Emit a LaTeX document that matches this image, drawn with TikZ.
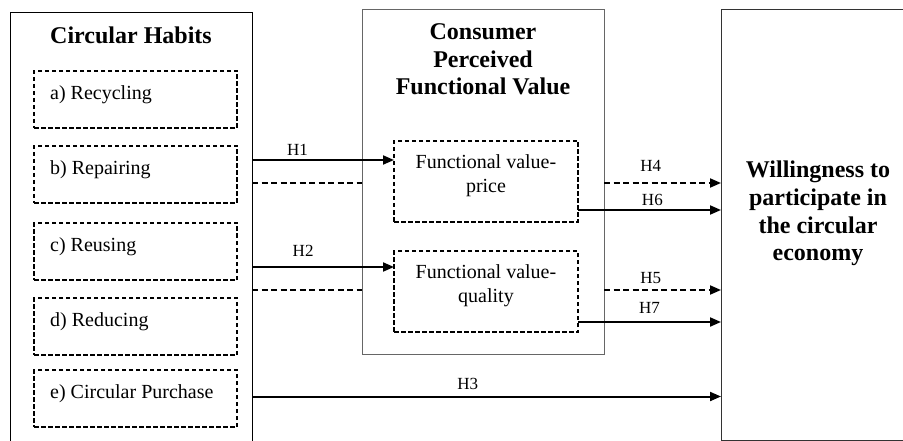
\documentclass[tikz,border=0pt]{standalone}
\usepackage{fontspec}
\setmainfont{Liberation Serif}
\usetikzlibrary{arrows.meta,calc}

\begin{document}
\begin{tikzpicture}[x=1pt, y=-1pt,
  outerbox/.style={draw, line width=0.8pt, anchor=north west, inner sep=0pt, outer sep=0pt},
  habitbox/.style={draw, line width=1.5pt, dash pattern=on 4.5pt off 2.5pt, anchor=north west,
    minimum width=203pt, minimum height=57pt, inner sep=0pt, outer sep=0pt},
  valuebox/.style={habitbox, minimum width=184pt, minimum height=81pt},
  titletext/.style={font=\fontsize{24}{27.7}\selectfont\bfseries, align=center, anchor=north},
  itemtext/.style={font=\fontsize{20}{24}\selectfont, anchor=north west, inner sep=3pt},
  valuetext/.style={font=\fontsize{20}{24}\selectfont, align=center, anchor=north, inner sep=3pt},
  arr/.style={line width=2pt, -{Triangle[length=11pt,width=9pt]}},
  dasharr/.style={arr, dash pattern=on 6pt off 3.5pt},
  dashline/.style={line width=2pt, dash pattern=on 6pt off 3.5pt},
  hlab/.style={font=\fontsize{17}{20}\selectfont, inner sep=0pt}]

  \useasboundingbox (0,0) rectangle (903,441);
  \clip (0,0) rectangle (903,441);

  % Circular habits
  \node[outerbox, minimum width=242pt, minimum height=470pt] (habits) at (10,12) {};
  \node[titletext, yshift=-11.5pt] (habtitle) at (habits.north) {Circular Habits};
  \foreach \nm/\top/\txt in {rec/71/a) Recycling, rep/146/b) Repairing, reu/223/c) Reusing,
      red/298/d) Reducing, cir/370/e) Circular Purchase} {
    \node[habitbox] (\nm) at (34,\top) {};
    \node[itemtext, xshift=13pt, yshift=-11pt] (\nm lab) at (\nm.north west) {\txt};
  }

  % Consumer perceived functional value
  \node[outerbox, draw=black!60, minimum width=242pt, minimum height=345pt] (cpfv) at (362,9) {};
  \node[titletext, yshift=-11pt] (cpfvtitle) at (cpfv.north) {Consumer\\Perceived\\Functional Value};
  \node[valuebox] (fvp) at (394,141) {};
  \node[valuetext, yshift=-10pt] (fvplab) at (fvp.north) {Functional value-\\price};
  \node[valuebox] (fvq) at (394,251) {};
  \node[valuetext, yshift=-10pt] (fvqlab) at (fvq.north) {Functional value-\\quality};

  % Willingness
  \node[outerbox, draw=black!80, minimum width=194pt, minimum height=431pt] (will) at (721,9) {};
  \node[titletext, yshift=-148.5pt] (willtitle) at (will.north) {Willingness to\\participate in\\the circular\\economy};

  % Hypotheses
  \coordinate (h1) at ($(fvp.north west)+(0,19)$);
  \coordinate (d1) at ($(fvp.north west)+(0,42)$);
  \coordinate (h6) at ($(fvp.north east)+(0,69)$);
  \coordinate (h2) at ($(fvq.north west)+(0,16)$);
  \coordinate (d2) at ($(fvq.north west)+(0,39)$);
  \coordinate (h7) at ($(fvq.north east)+(0,71)$);

  \draw[arr] (habits.east |- h1) -- (h1) node[hlab, pos=0.32, above=3pt] {H1};
  \draw[dashline] (habits.east |- d1) -- (cpfv.west |- d1);
  \draw[dasharr] (cpfv.east |- d1) -- (will.west |- d1) node[hlab, pos=0.4, above=10pt] {H4};
  \draw[arr] (h6) -- (will.west |- h6) node[hlab, pos=0.52, above=3pt] {H6};

  \draw[arr] (habits.east |- h2) -- (h2) node[hlab, pos=0.36, above=10pt] {H2};
  \draw[dashline] (habits.east |- d2) -- (cpfv.west |- d2);
  \draw[dasharr] (cpfv.east |- d2) -- (will.west |- d2) node[hlab, pos=0.4, above=5pt] {H5};
  \draw[arr] (h7) -- (will.west |- h7) node[hlab, pos=0.5, above=8pt] {H7};

  \draw[arr] ($(habits.east |- cir)+(0,-2)$) -- ($(will.west |- cir)+(0,-2)$) node[hlab, pos=0.46, above=6pt] {H3};
\end{tikzpicture}
\end{document}
